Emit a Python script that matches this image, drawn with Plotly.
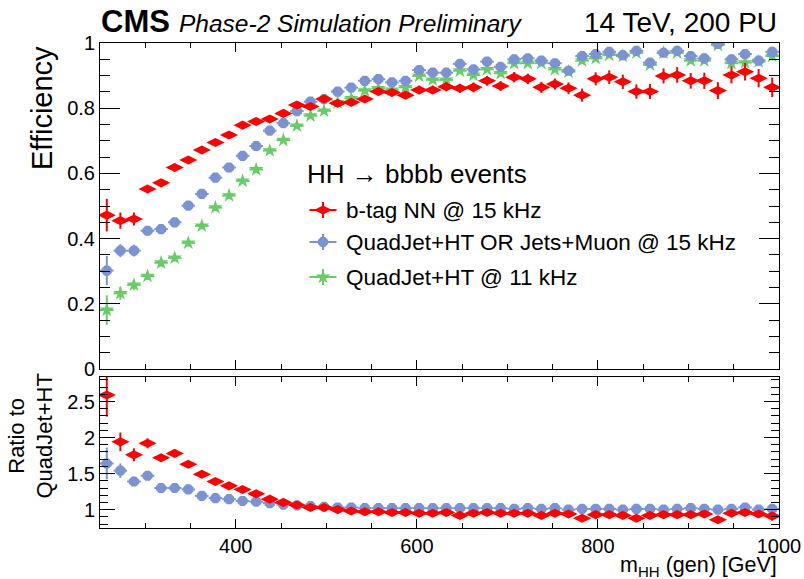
import plotly.graph_objects as go

# ---------------- data ----------------
mass = [257.5, 272.5, 287.5, 302.5, 317.5, 332.5, 347.5, 362.5, 377.5, 392.5,
        407.5, 422.5, 437.5, 452.5, 467.5, 482.5, 497.5, 512.5, 527.5, 542.5,
        557.5, 572.5, 587.5, 602.5, 617.5, 632.5, 647.5, 662.5, 677.5, 692.5,
        707.5, 722.5, 737.5, 752.5, 767.5, 782.5, 797.5, 812.5, 827.5, 842.5,
        857.5, 872.5, 887.5, 902.5, 917.5, 932.5, 947.5, 962.5, 977.5, 992.5]
half_bin = [7.5] * 50

eff_btag = [0.472, 0.455, 0.460, 0.552, 0.571, 0.618, 0.641, 0.672, 0.695, 0.718,
            0.748, 0.759, 0.767, 0.784, 0.810, 0.805, 0.828, 0.815, 0.818, 0.828,
            0.851, 0.848, 0.840, 0.856, 0.856, 0.866, 0.861, 0.864, 0.884, 0.868,
            0.895, 0.890, 0.864, 0.874, 0.861, 0.840, 0.890, 0.895, 0.881, 0.851,
            0.851, 0.899, 0.902, 0.884, 0.884, 0.854, 0.902, 0.912, 0.892, 0.864]
err_btag = [0.050, 0.025, 0.020, 0.013, 0.012, 0.012, 0.012, 0.012, 0.011, 0.011,
            0.011, 0.010, 0.010, 0.010, 0.010, 0.010, 0.010, 0.010, 0.010, 0.010,
            0.012, 0.012, 0.012, 0.013, 0.013, 0.014, 0.014, 0.015, 0.015, 0.015,
            0.016, 0.016, 0.017, 0.017, 0.018, 0.020, 0.020, 0.021, 0.022, 0.022,
            0.023, 0.023, 0.024, 0.024, 0.025, 0.026, 0.026, 0.027, 0.028, 0.030]

eff_or = [0.302, 0.363, 0.363, 0.424, 0.429, 0.450, 0.501, 0.537, 0.587, 0.618,
          0.654, 0.684, 0.731, 0.754, 0.791, 0.820, 0.828, 0.851, 0.863, 0.884,
          0.889, 0.879, 0.884, 0.917, 0.909, 0.909, 0.936, 0.919, 0.943, 0.927,
          0.950, 0.953, 0.946, 0.938, 0.915, 0.960, 0.966, 0.973, 0.963, 0.976,
          0.940, 0.970, 0.976, 0.960, 0.953, 0.997, 0.950, 0.966, 0.946, 0.973]
err_or = [0.045, 0.020, 0.018, 0.012, 0.012, 0.011, 0.011, 0.010, 0.010, 0.010,
          0.010, 0.009, 0.009, 0.009, 0.008, 0.008, 0.008, 0.008, 0.008, 0.008,
          0.008, 0.008, 0.008, 0.008, 0.008, 0.008, 0.008, 0.008, 0.008, 0.008,
          0.008, 0.008, 0.008, 0.008, 0.009, 0.009, 0.009, 0.009, 0.009, 0.009,
          0.010, 0.010, 0.010, 0.010, 0.010, 0.010, 0.011, 0.011, 0.012, 0.015]

eff_quad = [0.181, 0.232, 0.258, 0.285, 0.326, 0.341, 0.387, 0.439, 0.495, 0.532,
            0.577, 0.612, 0.670, 0.702, 0.746, 0.777, 0.792, 0.817, 0.830, 0.854,
            0.861, 0.856, 0.864, 0.899, 0.887, 0.887, 0.915, 0.902, 0.919, 0.907,
            0.938, 0.938, 0.938, 0.919, 0.912, 0.946, 0.953, 0.963, 0.960, 0.970,
            0.933, 0.970, 0.970, 0.946, 0.946, 0.994, 0.938, 0.940, 0.943, 0.960]
err_quad = [0.045, 0.020, 0.015, 0.012, 0.012, 0.011, 0.011, 0.010, 0.010, 0.010,
            0.010, 0.009, 0.009, 0.009, 0.008, 0.008, 0.008, 0.008, 0.008, 0.008,
            0.008, 0.008, 0.008, 0.008, 0.008, 0.008, 0.008, 0.008, 0.008, 0.008,
            0.008, 0.008, 0.008, 0.008, 0.009, 0.009, 0.009, 0.009, 0.009, 0.009,
            0.010, 0.010, 0.010, 0.010, 0.010, 0.010, 0.011, 0.011, 0.012, 0.014]

ratio_btag = [2.59, 1.94, 1.76, 1.92, 1.72, 1.78, 1.63, 1.49, 1.39, 1.33,
              1.28, 1.22, 1.145, 1.10, 1.065, 1.03, 1.03, 1.00, 0.98, 0.97,
              0.97, 0.96, 0.96, 0.95, 0.95, 0.96, 0.92, 0.95, 0.96, 0.95,
              0.95, 0.95, 0.92, 0.95, 0.94, 0.88, 0.93, 0.93, 0.92, 0.88,
              0.92, 0.93, 0.93, 0.93, 0.94, 0.86, 0.95, 0.96, 0.94, 0.91]
rerr_btag = [0.30, 0.13, 0.09, 0.07, 0.05, 0.045, 0.04, 0.035, 0.03, 0.03,
             0.025, 0.025, 0.02, 0.02, 0.02, 0.02, 0.02, 0.02, 0.02, 0.02,
             0.02, 0.02, 0.02, 0.02, 0.02, 0.02, 0.02, 0.02, 0.02, 0.02,
             0.02, 0.02, 0.02, 0.02, 0.02, 0.025, 0.025, 0.025, 0.025, 0.025,
             0.025, 0.025, 0.03, 0.03, 0.03, 0.03, 0.03, 0.035, 0.04, 0.06]

ratio_or = [1.64, 1.54, 1.39, 1.47, 1.30, 1.30, 1.28, 1.19, 1.16, 1.145,
            1.12, 1.11, 1.09, 1.07, 1.06, 1.05, 1.04, 1.03, 1.03, 1.02,
            1.02, 1.02, 1.02, 1.02, 1.02, 1.02, 1.02, 1.02, 1.02, 1.02,
            1.01, 1.02, 1.01, 1.02, 1.00, 1.01, 1.01, 1.01, 1.00, 1.01,
            1.01, 1.00, 1.01, 1.02, 1.01, 1.00, 1.01, 1.03, 1.00, 1.01]
rerr_or = [0.22, 0.10, 0.06, 0.05, 0.04, 0.035, 0.03, 0.03, 0.025, 0.025,
           0.02, 0.02, 0.02, 0.015, 0.015, 0.015, 0.015, 0.015, 0.015, 0.015,
           0.015, 0.015, 0.015, 0.015, 0.015, 0.015, 0.015, 0.015, 0.015, 0.015,
           0.015, 0.015, 0.015, 0.015, 0.015, 0.015, 0.015, 0.015, 0.015, 0.015,
           0.015, 0.015, 0.015, 0.015, 0.02, 0.02, 0.02, 0.02, 0.025, 0.07]

labels = ["b-tag NN @ 15 kHz", "QuadJet+HT OR Jets+Muon @ 15 kHz", "QuadJet+HT @ 11 kHz"]

# ---------------- style ----------------
W, H = 804, 579
ML, MR, MT, MB = 100, 25, 43, 51
RED, BLUE, GREEN = "#ff0000", "#7b93d3", "#66cc66"
FONT = "Liberation Sans, Arial, Helvetica, sans-serif"
PW, PH = W - ML - MR, H - MT - MB


def px(x):
    return (x - ML) / PW


def py(y):
    return (H - MB - y) / PH


styles = [
    dict(color=RED, symbol="diamond-wide", size=13),
    dict(color=BLUE, symbol="octagon", size=11),
    dict(color=GREEN, symbol="star", size=11),
]

fig = go.Figure()


def add(x, y, ey, st, xa, ya):
    fig.add_trace(go.Scatter(
        x=x, y=y, mode="markers", xaxis=xa, yaxis=ya, showlegend=False,
        marker=dict(color=st["color"], symbol=st["symbol"], size=st["size"], line=dict(width=0)),
        error_y=dict(type="data", array=ey, color=st["color"], thickness=2, width=0),
        error_x=dict(type="data", array=half_bin, color=st["color"], thickness=2, width=0),
    ))


# draw order: green, blue, red on top
add(mass, eff_quad, err_quad, styles[2], "x", "y")
add(mass, eff_or, err_or, styles[1], "x", "y")
add(mass, eff_btag, err_btag, styles[0], "x", "y")

add(mass, ratio_or, rerr_or, styles[1], "x2", "y2")
add(mass, ratio_btag, rerr_btag, styles[0], "x2", "y2")

# legend keys (page-pixel overlay axes)
key_x = 323
key_y = [210, 242, 277]
for st, yk in zip(styles, key_y):
    fig.add_trace(go.Scatter(
        x=[key_x], y=[yk], mode="markers", xaxis="x3", yaxis="y3", showlegend=False,
        marker=dict(color=st["color"], symbol=st["symbol"], size=st["size"], line=dict(width=0)),
        error_y=dict(type="constant", value=8, color=st["color"], thickness=2, width=0),
        error_x=dict(type="constant", value=13.5, color=st["color"], thickness=2, width=0),
    ))

axis_common = dict(showline=True, linecolor="black", linewidth=1, mirror="ticks",
                   ticks="inside", tickcolor="black", showgrid=False, zeroline=False,
                   automargin=False,
                   tickfont=dict(family=FONT, size=20, color="black"))

top_dom = [(H - MB - 369) / PH, 1.0]
bot_dom = [0.0, (H - MB - 377) / PH]

fig.update_layout(
    width=W, height=H,
    margin=dict(l=ML, r=MR, t=MT, b=MB, autoexpand=False),
    paper_bgcolor="white", plot_bgcolor="rgba(0,0,0,0)",
    xaxis=dict(domain=[0, 1], anchor="y", range=[250, 1000], tick0=0, dtick=200,
               ticklen=9, showticklabels=False,
               minor=dict(ticks="inside", dtick=50, ticklen=5, tickcolor="black"),
               **axis_common),
    yaxis=dict(domain=top_dom, anchor="x", range=[0, 1], ticklen=20,
               tickvals=[0, 0.2, 0.4, 0.6, 0.8, 1.0], ticktext=["0", "0.2", "0.4", "0.6", "0.8", "1"],
               minor=dict(ticks="inside", tick0=0, dtick=0.05, ticklen=10, tickcolor="black"),
               **axis_common),
    xaxis2=dict(domain=[0, 1], anchor="y2", range=[250, 1000], tick0=0, dtick=200,
                ticklen=9,
                minor=dict(ticks="inside", dtick=50, ticklen=5, tickcolor="black"),
                **axis_common),
    yaxis2=dict(domain=bot_dom, anchor="x2", range=[0.745, 2.84], ticklen=15,
                tickvals=[1, 1.5, 2, 2.5], ticktext=["1", "1.5", "2", "2.5"],
                minor=dict(ticks="inside", tick0=0, dtick=0.1, ticklen=8, tickcolor="black"),
                **axis_common),
    xaxis3=dict(domain=[0, 1], anchor="y3", range=[ML, W - MR], visible=False, automargin=False),
    yaxis3=dict(domain=[0, 1], anchor="x3", range=[H - MB, MT], visible=False, automargin=False),
)

ann = []
ann.append(dict(x=px(99), y=py(22), xref="paper", yref="paper", xanchor="left", yanchor="middle",
                text="<b>CMS</b>", showarrow=False, font=dict(family=FONT, size=31, color="black")))
ann.append(dict(x=px(177), y=py(24), xref="paper", yref="paper", xanchor="left", yanchor="middle",
                text="<i>Phase-2 Simulation Preliminary</i>", showarrow=False,
                font=dict(family=FONT, size=24.5, color="black")))
ann.append(dict(x=px(779), y=py(23), xref="paper", yref="paper", xanchor="right", yanchor="middle",
                text="14 TeV, 200 PU", showarrow=False, font=dict(family=FONT, size=28, color="black")))
ann.append(dict(x=px(42), y=py(44), xref="paper", yref="paper", xanchor="center", yanchor="top",
                text="Efficiency", textangle=-90, showarrow=False,
                font=dict(family=FONT, size=29, color="black")))
ann.append(dict(x=px(30), y=py(501), xref="paper", yref="paper", xanchor="center", yanchor="bottom",
                text="Ratio to<br>QuadJet+HT", textangle=-90, showarrow=False,
                font=dict(family=FONT, size=22, color="black")))
ann.append(dict(x=px(779), y=py(566), xref="paper", yref="paper", xanchor="right", yanchor="middle",
                text="m<sub>HH</sub> (gen) [GeV]", showarrow=False,
                font=dict(family=FONT, size=21.5, color="black")))
ann.append(dict(x=px(305), y=py(174), xref="paper", yref="paper", xanchor="left", yanchor="middle",
                text="HH \u2192 bbbb events", showarrow=False,
                font=dict(family=FONT, size=26, color="black")))
for lab, yk in zip(labels, key_y):
    ann.append(dict(x=px(344), y=py(yk), xref="paper", yref="paper", xanchor="left", yanchor="middle",
                    text=lab, showarrow=False, font=dict(family=FONT, size=22.5, color="black")))
fig.update_layout(annotations=ann)

fig.write_html("out.html", config={"displayModeBar": False},
               post_script="document.body.style.margin='0px';document.body.style.overflow='hidden';")
